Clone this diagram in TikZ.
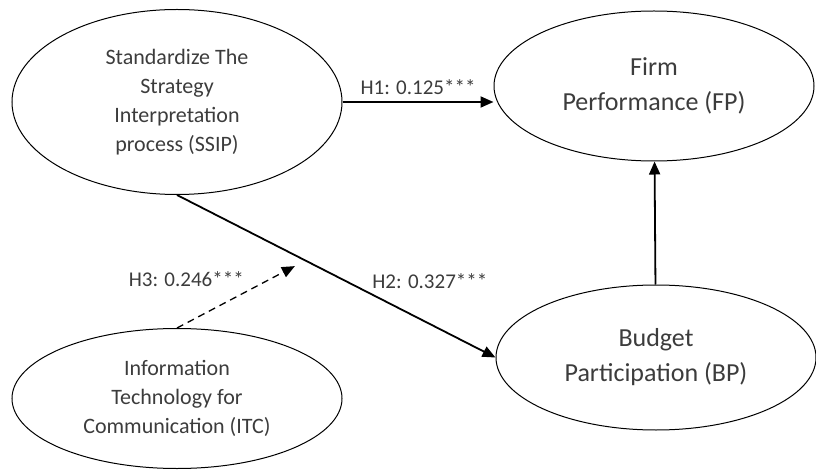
\documentclass[tikz,border=0pt]{standalone}
\usepackage{fontspec}
\setmainfont{Carlito}
\usetikzlibrary{positioning,arrows.meta,shapes.geometric,calc}
\definecolor{txt}{HTML}{3C3C3C}

\begin{document}
\begin{tikzpicture}[
  x=1pt, y=1pt,
  construct/.style={
    draw=black, line width=1pt, ellipse, align=center, text=txt,
    minimum width=330pt, minimum height=185pt,
    font=\fontsize{22}{29}\selectfont,
  },
  outcome/.style={
    construct, minimum width=320pt, minimum height=150pt,
    font=\fontsize{26}{35}\selectfont,
  },
  path/.style={-{Triangle[length=13pt,width=11pt]}, line width=1.8pt, black},
  moderator/.style={path, line width=1.3pt, dash pattern=on 7pt off 5pt},
  coef/.style={font=\fontsize{21}{25}\selectfont, text=txt},
]
  \useasboundingbox (0,0) rectangle (816,-470);

  % Constructs on the left
  \node[construct] (ssip) at (177,-102) {Standardize The\\Strategy\\Interpretation\\process (SSIP)};
  \node[construct, below=133pt of ssip, minimum height=140pt] (itc) {Information\\Technology for\\Communication (ITC)};

  % Outcomes on the right
  \node[outcome, right=151pt of ssip, yshift=16pt] (fp) {Firm\\Performance (FP)};
  \node[outcome, below=123pt of fp, xshift=2pt, minimum height=145pt] (bp) {Budget\\Participation (BP)};

  % end of the moderating arrow, just under H2
  \coordinate (h3end) at ($(ssip.south)!0.37!(bp.west)+(0,-11)$);

  % paths
  \draw[path] (ssip.east) -- node[coef, above=3pt] {H1: 0.125***} (ssip.east -| fp.west);
  \draw[path] (ssip.south) -- node[coef, pos=0.6, above right] {H2: 0.327***} (bp.west);
  \draw[moderator] (itc.north) -- node[coef, pos=0.6, above left] {H3: 0.246***} (h3end);
  \draw[path] (bp) -- (fp);
\end{tikzpicture}
\end{document}
